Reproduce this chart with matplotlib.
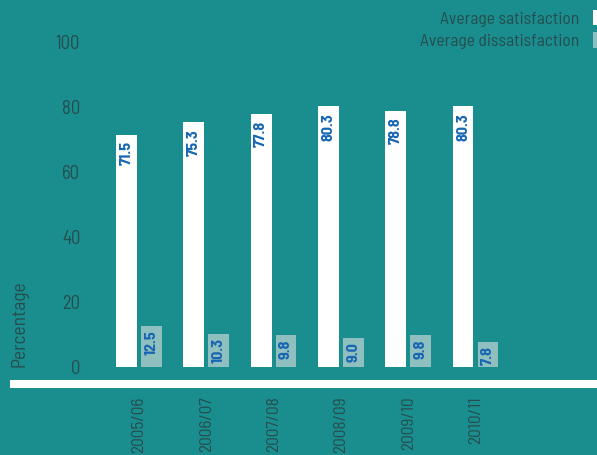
import matplotlib.pyplot as plt
from matplotlib.patches import Rectangle
import numpy as np

# Data
years = ["2005/06", "2006/07", "2007/08", "2008/09", "2009/10", "2010/11"]
satisfaction = [71.5, 75.3, 77.8, 80.3, 78.8, 80.3]
dissatisfaction = [12.5, 10.3, 9.8, 9.0, 9.8, 7.8]

bg = "#1a8e8e"
light = "#8fbfbf"
text_col = "#274c4d"
val_col = "#1766b3"

plt.rcParams['font.family'] = ['Barlow Semi Condensed', 'Barlow Condensed', 'DejaVu Sans']

fig = plt.figure(figsize=(5.97, 4.55), dpi=100, facecolor=bg)
W, H = 597, 455
ax = fig.add_axes([90 / W, 88 / H, 507 / W, 325 / H])
ax.set_facecolor(bg)

x = np.arange(len(years))
w = 0.31
off = 0.185
b1 = ax.bar(x - off, satisfaction, w, color="white", label="Average satisfaction")
b2 = ax.bar(x + off, dissatisfaction, w, color=light, label="Average dissatisfaction")

# value labels inside the top of each bar
for bars, vals, gap in [(b1, satisfaction, 2.1), (b2, dissatisfaction, 1.3)]:
    for rect, v in zip(bars, vals):
        ax.text(rect.get_x() + rect.get_width() / 2, v - gap, f"{v:.1f}",
                rotation=90, ha="center", va="top", color=val_col,
                fontsize=11.5, fontweight="bold")

ax.set_xlim(-49 / 67.3, 458 / 67.3)
ax.set_ylim(0, 100)
ax.set_yticks([0, 20, 40, 60, 80, 100])
ax.set_xticks(x)
ax.set_xticklabels(years, rotation=90, va="top", ha="center")
ax.tick_params(axis="both", length=0, colors=text_col)
ax.tick_params(axis="y", pad=7, labelsize=13.5)
ax.tick_params(axis="x", pad=21, labelsize=12.5)
for s in ax.spines.values():
    s.set_visible(False)

fig.text(20 / W, 1 - 367 / H, "Percentage", rotation=90, ha="center", va="bottom",
         color=text_col, fontsize=14)

# white baseline strip under the bars
fig.add_artist(Rectangle((10 / W, 1 - 388 / H), 1, 8 / H, transform=fig.transFigure,
                         color="white", lw=0))

leg = fig.legend(loc="upper right", bbox_to_anchor=(1.049, 1.013), frameon=False,
                 markerfirst=False, handlelength=1.0, handleheight=1.0,
                 handletextpad=0.8, labelspacing=0.3, fontsize=12.6)
for t in leg.get_texts():
    t.set_color(text_col)

fig.savefig("out.png", dpi=100, facecolor=bg)
